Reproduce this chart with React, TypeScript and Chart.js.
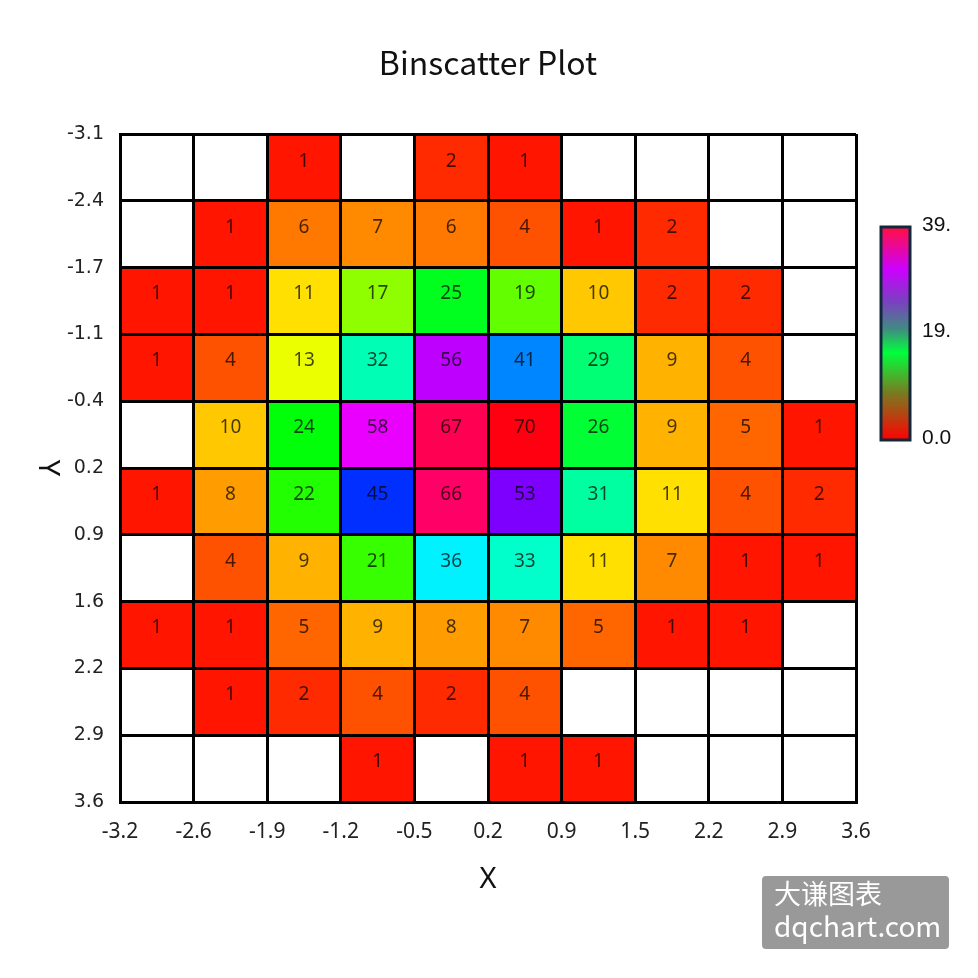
import React, { useEffect, useRef } from 'react';
import { Chart, registerables } from 'chart.js';

Chart.register(...registerables);

// ---- data ----
const chartTitle = 'Binscatter Plot';
const xAxisTitle = 'X';
const yAxisTitle = 'Y';
const xEdgeLabels = ['-3.2', '-2.6', '-1.9', '-1.2', '-0.5', '0.2', '0.9', '1.5', '2.2', '2.9', '3.6'];
const yEdgeLabels = ['-3.1', '-2.4', '-1.7', '-1.1', '-0.4', '0.2', '0.9', '1.6', '2.2', '2.9', '3.6'];
// rows from top (y = -3.1) to bottom (y = 3.6), columns from left (x = -3.2) to right
const binCounts = [
  [0, 0, 1, 0, 2, 1, 0, 0, 0, 0],
  [0, 1, 6, 7, 6, 4, 1, 2, 0, 0],
  [1, 1, 11, 17, 25, 19, 10, 2, 2, 0],
  [1, 4, 13, 32, 56, 41, 29, 9, 4, 0],
  [0, 10, 24, 58, 67, 70, 26, 9, 5, 1],
  [1, 8, 22, 45, 66, 53, 31, 11, 4, 2],
  [0, 4, 9, 21, 36, 33, 11, 7, 1, 1],
  [1, 1, 5, 9, 8, 7, 5, 1, 1, 0],
  [0, 1, 2, 4, 2, 4, 0, 0, 0, 0],
  [0, 0, 0, 1, 0, 1, 1, 0, 0, 0],
];
const colorbarTickLabels = ['0.0', '19.', '39.'];
const watermarkLines = ['大谦图表', 'dqchart.com'];

const maxCount = Math.max(...binCounts.flat());

function cellColor(v: number): string {
  if (v <= 0) return '#ffffff';
  const t = v / maxCount;
  // slight dip in the orange range to match the reference colour scale
  const h = 356 * t - 4 * Math.exp(-Math.pow((t - 0.13) / 0.06, 2));
  return `hsl(${h.toFixed(1)}, 100%, 50%)`;
}

type Cell = { x: number; y: [number, number]; v: number };
const cells: Cell[] = [];
binCounts.forEach((row, r) => {
  row.forEach((v, c) => {
    cells.push({ x: c + 0.5, y: [r, r + 1], v });
  });
});

const overlayPlugin = {
  id: 'overlay',
  afterDraw(chart: any) {
    const ctx: CanvasRenderingContext2D = chart.ctx;
    const meta = chart.getDatasetMeta(0);
    ctx.save();
    // cell labels
    ctx.font = '19px "Liberation Sans Narrow", "Noto Sans"';
    ctx.textAlign = 'center';
    ctx.textBaseline = 'middle';
    ctx.fillStyle = 'rgba(0,0,0,0.72)';
    meta.data.forEach((el: any, i: number) => {
      const v = cells[i].v;
      if (!v) return;
      const p = el.getProps(['x', 'y', 'base'], true);
      ctx.fillText(String(v), p.x, (p.y + p.base) / 2 - 7);
    });

    const area = chart.chartArea;
    const cx = (area.left + area.right) / 2;

    // title
    ctx.fillStyle = '#111';
    ctx.font = '32px "Noto Sans CJK SC", "Noto Sans"';
    ctx.fillText(chartTitle, cx, 63);

    // x title
    ctx.font = '29px "Liberation Sans Narrow", "Noto Sans"';
    ctx.fillText(xAxisTitle, cx, 880);

    // y title (rotated clockwise)
    ctx.save();
    ctx.translate(47, (area.top + area.bottom) / 2);
    ctx.rotate(Math.PI / 2);
    ctx.font = '29px "Liberation Sans Narrow", "Noto Sans"';
    ctx.fillText(yAxisTitle, 0, 0);
    ctx.restore();

    // colorbar
    const cbL = 881, cbT = 227, cbW = 29, cbH = 213;
    const g = ctx.createLinearGradient(0, cbT, 0, cbT + cbH);
    g.addColorStop(0, '#ff1040');
    g.addColorStop(0.2, '#cc00ff');
    g.addColorStop(0.35, '#7a40c0');
    g.addColorStop(0.48, '#408c80');
    g.addColorStop(0.59, '#00ff3c');
    g.addColorStop(0.78, '#7a7a20');
    g.addColorStop(0.9, '#c03a10');
    g.addColorStop(1, '#ff0000');
    ctx.fillStyle = g;
    ctx.fillRect(cbL, cbT, cbW, cbH);
    ctx.strokeStyle = '#13273a';
    ctx.lineWidth = 3;
    ctx.strokeRect(cbL, cbT, cbW, cbH);
    ctx.fillStyle = '#111';
    ctx.font = '21px "Liberation Sans", "Noto Sans"';
    ctx.textAlign = 'left';
    colorbarTickLabels.forEach((t, i) => {
      const y = cbT + cbH - (i * cbH) / (colorbarTickLabels.length - 1);
      ctx.fillText(t, 922, y - 2);
    });

    // watermark
    ctx.fillStyle = '#999999';
    const wx = 762, wy = 876, ww = 187, wh = 73, rr = 4;
    ctx.beginPath();
    ctx.moveTo(wx + rr, wy);
    ctx.arcTo(wx + ww, wy, wx + ww, wy + wh, rr);
    ctx.arcTo(wx + ww, wy + wh, wx, wy + wh, rr);
    ctx.arcTo(wx, wy + wh, wx, wy, rr);
    ctx.arcTo(wx, wy, wx + ww, wy, rr);
    ctx.closePath();
    ctx.fill();
    ctx.fillStyle = '#ffffff';
    ctx.font = '27px "Noto Sans CJK SC", "Noto Sans"';
    ctx.fillText(watermarkLines[0], 774, 894);
    ctx.font = '28px "Noto Sans CJK SC", "Noto Sans"';
    ctx.fillText(watermarkLines[1], 774, 926);
    ctx.restore();
  },
};

export default function App() {
  const canvasRef = useRef<HTMLCanvasElement | null>(null);

  useEffect(() => {
    if (!canvasRef.current) return;
    const chart = new Chart(canvasRef.current, {
      type: 'bar',
      data: {
        datasets: [
          {
            data: cells as any,
            backgroundColor: cells.map((c) => cellColor(c.v)),
            borderWidth: 0,
            barPercentage: 1,
            categoryPercentage: 1,
          } as any,
        ],
      },
      options: {
        animation: false,
        responsive: false,
        layout: { padding: { left: 0, top: 134, right: 122, bottom: 0 } },
        plugins: {
          legend: { display: false },
          tooltip: { enabled: false },
          title: { display: false },
        },
        scales: {
          x: {
            type: 'linear',
            min: 0,
            max: 10,
            offset: false,
            grid: { color: '#000', lineWidth: 3, drawTicks: false, offset: false, z: 1 },
            border: { display: true, color: '#000', width: 3, z: 1 },
            ticks: {
              stepSize: 1,
              autoSkip: false,
              maxRotation: 0,
              padding: 17,
              color: '#222',
              font: { family: '"Liberation Sans Narrow", "Noto Sans"', size: 21 },
              callback: (v: any) => xEdgeLabels[Math.round(Number(v))] ?? '',
            },
            afterFit: (s: any) => {
              s.height = 176;
            },
          } as any,
          y: {
            type: 'linear',
            min: 0,
            max: 10,
            reverse: true,
            offset: false,
            grid: { color: '#000', lineWidth: 3, drawTicks: false, z: 1 },
            border: { display: true, color: '#000', width: 3, z: 1 },
            ticks: {
              stepSize: 1,
              autoSkip: false,
              padding: 16,
              color: '#222',
              font: { family: '"DejaVu Sans", sans-serif', size: 19 },
              callback: (v: any) => yEdgeLabels[Math.round(Number(v))] ?? '',
            },
            afterFit: (s: any) => {
              s.width = 120;
            },
          } as any,
        },
      },
      plugins: [overlayPlugin],
    });
    return () => chart.destroy();
  }, []);

  return (
    <div style={{ position: 'fixed', left: 0, top: 0, width: 978, height: 978, background: '#fff' }}>
      <canvas ref={canvasRef} width={978} height={978} style={{ display: 'block' }} />
    </div>
  );
}
